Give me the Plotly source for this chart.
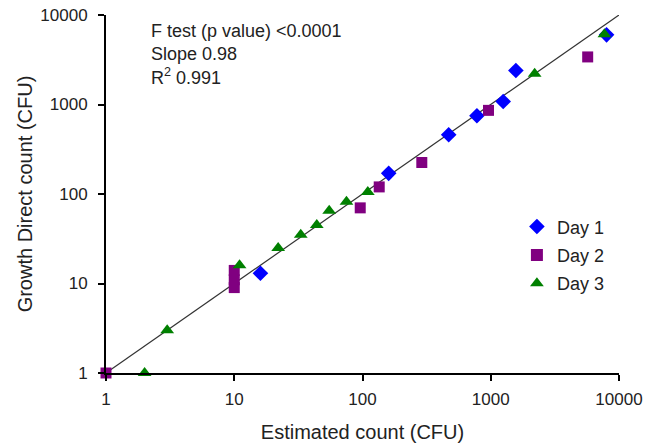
import plotly.graph_objects as go

# Data
day1_x = [16, 160, 470, 780, 1250, 1570, 8000]
day1_y = [13, 170, 460, 750, 1080, 2400, 6000]
day2_x = [1, 10, 10, 10, 96, 135, 290, 960, 5700]
day2_y = [1, 14, 11, 9, 70, 120, 225, 860, 3400]
day3_x = [2, 3, 11, 22, 33, 44, 55, 75, 110, 2200, 7700]
day3_y = [1, 3, 16, 25, 35, 45, 65, 82, 105, 2200, 6100]
fit_x = [1, 10000]
fit_y = [1, 10000]
tick_vals = [1, 10, 100, 1000, 10000]
tick_text = ["1", "10", "100", "1000", "10000"]

FONT = "Liberation Sans, Arial, sans-serif"

fig = go.Figure()
fig.add_trace(go.Scatter(x=fit_x, y=fit_y, mode="lines",
                         line=dict(color="#333333", width=1.2),
                         showlegend=False, hoverinfo="skip"))
fig.add_trace(go.Scatter(x=day1_x, y=day1_y, mode="markers", name="Day 1",
                         legendgroup="d1",
                         marker=dict(symbol="diamond", size=12, color="#0000FF"),
                         cliponaxis=False))
fig.add_trace(go.Scatter(x=day2_x, y=day2_y, mode="markers", name="Day 2",
                         legendgroup="d2",
                         marker=dict(symbol="square", size=11, color="#800080"),
                         cliponaxis=False))
fig.add_trace(go.Scatter(x=day3_x, y=day3_y, mode="markers", name="Day 3",
                         legendgroup="d3",
                         marker=dict(symbol="triangle-up", size=12, color="#008000"),
                         cliponaxis=False))

axis_common = dict(type="log", range=[0, 4], showgrid=False, zeroline=False,
                   showline=True, linecolor="black", linewidth=2,
                   ticks="outside", ticklen=6, tickwidth=2, tickcolor="black",
                   tickvals=tick_vals, ticktext=tick_text, automargin=False,
                   ticklabeloverflow="allow",
                   tickfont=dict(size=17, color="#222222", family=FONT))

fig.update_layout(
    width=656, height=444,
    margin=dict(l=106, r=37, t=15, b=71),
    paper_bgcolor="white", plot_bgcolor="white",
    font=dict(family=FONT, color="#222222"),
    xaxis=dict(**axis_common, ticklabelstandoff=4,
               title=dict(text="Estimated count (CFU)", font=dict(size=20), standoff=17)),
    yaxis=dict(**axis_common, ticklabelstandoff=7,
               title=dict(text="Growth Direct count (CFU)", font=dict(size=20), standoff=2)),
    legend=dict(x=0.801, y=0.46, xanchor="left", yanchor="top",
                font=dict(size=18, color="#222222"), itemsizing="constant",
                tracegroupgap=2, bgcolor="rgba(0,0,0,0)"),
    annotations=[
        dict(x=0.083, y=0.99, xref="paper", yref="paper", xanchor="left", yanchor="top",
             showarrow=False, align="left",
             text="F test (p value) &lt;0.0001<br>Slope 0.98<br>R<sup>2</sup> 0.991",
             font=dict(size=18, color="#222222", family=FONT)),
    ],
)

# remove the default page margin so the figure fills the window exactly
fig.write_html("out.html",
               config={"displayModeBar": False},
               post_script="document.body.style.margin='0';document.body.style.padding='0';")
